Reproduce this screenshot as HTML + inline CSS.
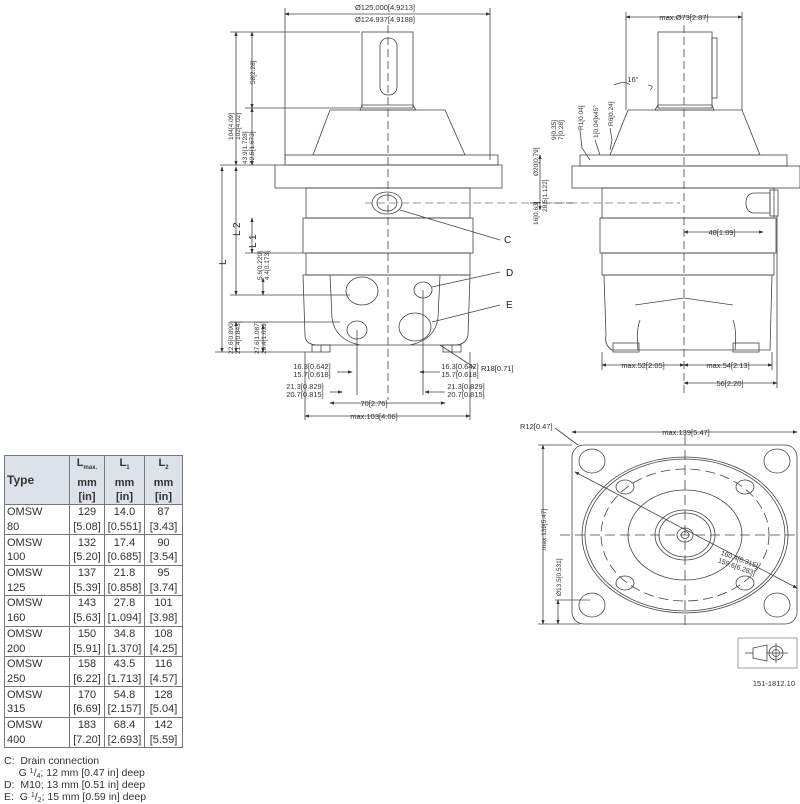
<!DOCTYPE html>
<html><head><meta charset="utf-8"><style>
body{margin:0;background:#fff;width:800px;height:800px;overflow:hidden;position:relative;font-family:"Liberation Sans",sans-serif}
svg{position:absolute;left:0;top:0}
table{position:absolute;left:4px;top:455px;border-collapse:collapse;font-size:11px;color:#333}
td{border:1px solid #777;text-align:center;padding:0 2px;height:14.7px;line-height:14px}
tr.h td{background:#dde2ea;font-weight:bold;line-height:14px;height:48px}
td.t{text-align:left;width:60px}
.notes{position:absolute;left:4px;top:756px;font-size:10.5px;color:#333;line-height:11.5px;white-space:nowrap}
.notes span{font-size:7px;position:relative;top:-3px}
.notes i{font-style:normal;font-size:7px;position:relative;top:2px}
</style></head><body>
<svg width="800" height="800" viewBox="0 0 800 800" font-family="Liberation Sans, sans-serif" font-size="7.5" fill="none" stroke="#444" stroke-width="0.8">
<defs><marker id="a" markerWidth="6" markerHeight="6" refX="5" refY="3" orient="auto-start-reverse"><path d="M0,1 L6,3 L0,5Z" fill="#333" stroke="none"/></marker></defs>
<g>
<line x1="285" y1="14" x2="490" y2="14" marker-start="url(#a)" marker-end="url(#a)"/>
<line x1="285" y1="8" x2="285" y2="160"/><line x1="490" y1="8" x2="490" y2="160"/>
<rect x="362" y="32" width="51" height="76"/>
<rect x="380" y="38" width="17" height="57" rx="8"/>
<path d="M360,110 L362,105 L413,105 L416,110 Z"/>
<path d="M330,110 L445,110 L465,155 L313,155 Z"/>
<rect x="285" y="155" width="213" height="10"/>
<rect x="275" y="165" width="227" height="23"/>
<rect x="306" y="188" width="164" height="30"/>
<rect x="303" y="218" width="170" height="35"/>
<rect x="306" y="253" width="164" height="22"/>
<path d="M303,275 L470,275 L468,335 Q466,345 455,345 L318,345 Q305,345 305,335 Z"/>
<path d="M330,275 L332,318 Q335,340 360,345 M440,275 L438,318 Q435,340 410,345"/>
<rect x="312" y="345" width="18" height="7"/><rect x="443" y="345" width="18" height="7"/>
<line x1="321" y1="345" x2="321" y2="352"/><line x1="452" y1="345" x2="452" y2="352"/>
<ellipse cx="387" cy="203" rx="15" ry="11"/><ellipse cx="387" cy="203" rx="10" ry="8"/>
<ellipse cx="362" cy="291" rx="16" ry="14"/><ellipse cx="423" cy="290" rx="9" ry="8"/>
<ellipse cx="415" cy="327" rx="16" ry="14"/><ellipse cx="357" cy="330" rx="10" ry="9"/>
<line x1="388" y1="25" x2="388" y2="400" stroke-dasharray="8,4"/>
<line x1="365" y1="203" x2="680" y2="203" stroke-dasharray="8,4" stroke="#777"/>
<line x1="400" y1="210" x2="500" y2="240"/><text x="504" y="243" fill="#222" stroke="none" font-size="10">C</text>
<line x1="432" y1="287" x2="500" y2="272"/><text x="506" y="276" fill="#222" stroke="none" font-size="10">D</text>
<line x1="432" y1="322" x2="500" y2="305"/><text x="506" y="308" fill="#222" stroke="none" font-size="10">E</text>
<line x1="440" y1="345" x2="475" y2="368"/><text x="481" y="371" fill="#222" stroke="none">R18[0.71]</text>
<line x1="236" y1="32" x2="236" y2="165" marker-start="url(#a)" marker-end="url(#a)"/>
<line x1="252" y1="32" x2="252" y2="108" marker-start="url(#a)" marker-end="url(#a)"/>
<line x1="252" y1="108" x2="252" y2="165" marker-start="url(#a)" marker-end="url(#a)"/>
<line x1="230" y1="32" x2="360" y2="32"/><line x1="245" y1="108" x2="360" y2="108"/>
<line x1="220" y1="165" x2="275" y2="165"/>
<line x1="222" y1="167" x2="222" y2="352" marker-start="url(#a)" marker-end="url(#a)"/>
<line x1="236" y1="167" x2="236" y2="295" marker-start="url(#a)" marker-end="url(#a)"/>
<line x1="252" y1="218" x2="252" y2="253" marker-start="url(#a)" marker-end="url(#a)"/>
<line x1="245" y1="253" x2="303" y2="253"/><line x1="230" y1="295" x2="350" y2="295"/>
<line x1="263" y1="278" x2="263" y2="295" marker-start="url(#a)" marker-end="url(#a)"/>
<line x1="236" y1="322" x2="236" y2="352" marker-start="url(#a)" marker-end="url(#a)"/>
<line x1="263" y1="325" x2="263" y2="352" marker-start="url(#a)" marker-end="url(#a)"/>
<line x1="215" y1="352" x2="312" y2="352"/><line x1="230" y1="322" x2="340" y2="322"/>
<g fill="#333" stroke="none" font-size="6.5">
<text transform="translate(233,140) rotate(-90)">104[4.09]</text><text transform="translate(240,140) rotate(-90)">102[4.02]</text>
<text transform="translate(255,84) rotate(-90)">58[2.28]</text>
<text transform="translate(247,164) rotate(-90)">43.9[1.728]</text><text transform="translate(254,164) rotate(-90)">42.5[1.673]</text>
<text transform="translate(262,280) rotate(-90)">5.6[0.220]</text><text transform="translate(269,280) rotate(-90)">4.4[0.173]</text>
<text transform="translate(233,354) rotate(-90)">22.6[0.890]</text><text transform="translate(240,354) rotate(-90)">21.4[0.843]</text>
<text transform="translate(259,354) rotate(-90)">27.6[1.087]</text><text transform="translate(266,354) rotate(-90)">26.4[1.039]</text>
</g>
<text transform="translate(226,265) rotate(-90)" fill="#222" stroke="none" font-size="10">L</text>
<text transform="translate(240,236) rotate(-90)" fill="#222" stroke="none" font-size="10">L 2</text>
<text transform="translate(256,248) rotate(-90)" fill="#222" stroke="none" font-size="10">L 1</text>
<g fill="#333" stroke="none" text-anchor="middle">
<text x="385" y="10">Ø125.000[4.9213]</text><text x="385" y="22">Ø124.937[4.9188]</text>
<text x="312" y="369">16.3[0.642]</text><text x="312" y="377">15.7[0.618]</text>
<text x="460" y="369">16.3[0.642]</text><text x="460" y="377">15.7[0.618]</text>
<text x="305" y="389">21.3[0.829]</text><text x="305" y="397">20.7[0.815]</text>
<text x="466" y="389">21.3[0.829]</text><text x="466" y="397">20.7[0.815]</text>
<text x="374" y="406">70[2.76]</text><text x="374" y="419">max.103[4.06]</text>
</g>
<line x1="337" y1="372" x2="352" y2="372" marker-end="url(#a)"/><line x1="440" y1="372" x2="420" y2="372" marker-end="url(#a)"/>
<line x1="330" y1="392" x2="342" y2="392" marker-end="url(#a)"/><line x1="445" y1="392" x2="425" y2="392" marker-end="url(#a)"/>
<line x1="330" y1="403" x2="445" y2="403" marker-start="url(#a)" marker-end="url(#a)"/>
<line x1="305" y1="416" x2="470" y2="416" marker-start="url(#a)" marker-end="url(#a)"/>
<line x1="305" y1="352" x2="305" y2="420"/><line x1="470" y1="352" x2="470" y2="420"/>
<line x1="357" y1="330" x2="357" y2="395"/><line x1="423" y1="290" x2="423" y2="395"/>
</g>
<g>
<line x1="626" y1="17" x2="742" y2="17" marker-start="url(#a)" marker-end="url(#a)"/>
<line x1="626" y1="12" x2="626" y2="110"/><line x1="742" y1="12" x2="742" y2="110"/>
<text x="684" y="20" fill="#333" stroke="none" text-anchor="middle">max.Ø73[2.87]</text>
<rect x="658" y="32" width="54" height="76"/><rect x="712" y="38" width="5" height="60"/>
<path d="M655,110 L658,105 L712,105 L714,110 Z"/>
<path d="M628,110 L742,110 L760,155 L610,155 Z"/>
<rect x="580" y="155" width="207" height="11"/>
<rect x="572" y="166" width="228" height="22"/>
<rect x="602" y="188" width="172" height="30"/>
<rect x="600" y="218" width="176" height="35"/>
<rect x="602" y="253" width="172" height="22"/>
<path d="M604,275 L772,275 L770,350 L612,350 Q604,345 606,335 Z"/>
<path d="M635,305 L684,298 L733,305 M640,320 Q636,330 638,350 M733,320 Q737,330 735,350"/>
<rect x="613" y="343" width="26" height="9"/><rect x="733" y="343" width="26" height="9"/>
<path d="M770,193 L755,193 Q746,193 746,203 Q746,213 755,213 L770,213 Z"/>
<rect x="770" y="190" width="8" height="26"/>
<line x1="684" y1="25" x2="684" y2="395" stroke-dasharray="8,4"/>
<line x1="684" y1="232" x2="763" y2="232" marker-start="url(#a)" marker-end="url(#a)"/>
<text x="722" y="235" fill="#333" stroke="none" text-anchor="middle">48[1.89]</text>
<line x1="602" y1="365" x2="684" y2="365" marker-start="url(#a)" marker-end="url(#a)"/>
<line x1="684" y1="365" x2="772" y2="365" marker-start="url(#a)" marker-end="url(#a)"/>
<line x1="684" y1="383" x2="777" y2="383" marker-start="url(#a)" marker-end="url(#a)"/>
<line x1="602" y1="352" x2="602" y2="370"/><line x1="772" y1="352" x2="772" y2="370"/><line x1="777" y1="216" x2="777" y2="388"/>
<g fill="#333" stroke="none" text-anchor="middle">
<text x="643" y="368">max.52[2.05]</text><text x="728" y="368">max.54[2.13]</text><text x="730" y="386">56[2.20]</text>
<text x="633" y="82">16°</text>
</g>
<path d="M614,85 Q625,80 630,85 M648,85 Q655,86 650,90"/>
<line x1="540" y1="155" x2="540" y2="210" marker-start="url(#a)" marker-end="url(#a)"/>
<g fill="#333" stroke="none" font-size="6.5">
<text transform="translate(538,176) rotate(-90)">Ø20[0.79]</text>
<text transform="translate(547,212) rotate(-90)">28.5[1.122]</text>
<text transform="translate(538,225) rotate(-90)">16[0.63]</text>
<text transform="translate(556,140) rotate(-90)">9[0.35]</text><text transform="translate(563,140) rotate(-90)">7[0.28]</text>
<text transform="translate(583,130) rotate(-90)">R1[0.04]</text>
<text transform="translate(598,138) rotate(-90)">1[0.04]x45°</text>
<text transform="translate(613,126) rotate(-90)">R6[0.24]</text>
</g>
<path d="M580,130 L582,148 L590,160 M595,140 L600,155 M610,128 L612,140 L610,150"/>
<line x1="530" y1="203" x2="573" y2="203" stroke-dasharray="8,4"/>
</g>
<g>
<line x1="572" y1="432" x2="797" y2="432" marker-start="url(#a)" marker-end="url(#a)"/>
<text x="686" y="435" fill="#333" stroke="none" text-anchor="middle">max.139[5.47]</text>
<text x="520" y="429" fill="#333" stroke="none">R12[0.47]</text>
<line x1="555" y1="428" x2="578" y2="445"/>
<rect x="572" y="445" width="225" height="179" rx="12"/>
<ellipse cx="685" cy="535" rx="103" ry="78"/><ellipse cx="685" cy="535" rx="100" ry="76"/>
<ellipse cx="685" cy="535" rx="84" ry="66" stroke-dasharray="10,5"/>
<ellipse cx="685" cy="535" rx="57" ry="45"/>
<ellipse cx="685" cy="535" rx="30" ry="25"/><ellipse cx="685" cy="535" rx="26" ry="22"/>
<ellipse cx="685" cy="535" rx="8" ry="7"/><ellipse cx="685" cy="535" rx="4" ry="3.5"/>
<ellipse cx="592" cy="461" rx="13" ry="12"/><ellipse cx="777" cy="461" rx="13" ry="12"/>
<ellipse cx="592" cy="605" rx="13" ry="12"/><ellipse cx="777" cy="605" rx="13" ry="12"/>
<ellipse cx="625" cy="487" rx="9" ry="7"/><ellipse cx="745" cy="487" rx="9" ry="7"/>
<ellipse cx="625" cy="583" rx="9" ry="7"/><ellipse cx="745" cy="583" rx="9" ry="7"/>
<line x1="560" y1="535" x2="800" y2="535" stroke-dasharray="10,5"/>
<line x1="685" y1="435" x2="685" y2="630" stroke-dasharray="10,5"/>
<line x1="575" y1="472" x2="797" y2="588" marker-start="url(#a)" marker-end="url(#a)"/>
<g fill="#333" stroke="none" font-size="7" transform="rotate(20 740 565)"><text x="718" y="562">160.4[6.315]</text><text x="718" y="570">159.6[6.283]</text></g>
<line x1="543" y1="445" x2="543" y2="624" marker-start="url(#a)" marker-end="url(#a)"/>
<line x1="538" y1="445" x2="572" y2="445"/><line x1="538" y1="624" x2="580" y2="624"/>
<line x1="558" y1="600" x2="558" y2="624" marker-start="url(#a)" marker-end="url(#a)"/>
<line x1="555" y1="600" x2="590" y2="600"/>
<g fill="#333" stroke="none" font-size="6.5"><text transform="translate(546,550) rotate(-90)">max.139[5.47]</text><text transform="translate(561,596) rotate(-90)">Ø13.5[0.531]</text></g>
<rect x="738" y="638" width="59" height="30" stroke="#888"/>
<path d="M753,648 L767,645 L767,661 L753,658 Z"/><line x1="745" y1="653" x2="753" y2="653"/>
<circle cx="776" cy="653" r="7"/><circle cx="776" cy="653" r="3.5"/><line x1="766" y1="653" x2="788" y2="653"/><line x1="776" y1="643" x2="776" y2="663"/>
<text x="795" y="686" fill="#333" stroke="none" text-anchor="end">151-1812.10</text>
</g>
</svg>
<table>
<tr class="h"><td class="t" style="font-size:12px">Type</td><td style="width:30px">L<sub style="font-size:6px">max.</sub><br>mm<br>[in]</td><td style="width:35px">L<sub style="font-size:6px">1</sub><br>mm<br>[in]</td><td style="width:33px">L<sub style="font-size:6px">2</sub><br>mm<br>[in]</td></tr>
<tr><td class="t" style="border-bottom:none">OMSW</td><td style="border-bottom:none">129</td><td style="border-bottom:none">14.0</td><td style="border-bottom:none">87</td></tr><tr><td class="t" style="border-top:none">80</td><td style="border-top:none">[5.08]</td><td style="border-top:none">[0.551]</td><td style="border-top:none">[3.43]</td></tr>
<tr><td class="t" style="border-bottom:none">OMSW</td><td style="border-bottom:none">132</td><td style="border-bottom:none">17.4</td><td style="border-bottom:none">90</td></tr><tr><td class="t" style="border-top:none">100</td><td style="border-top:none">[5.20]</td><td style="border-top:none">[0.685]</td><td style="border-top:none">[3.54]</td></tr>
<tr><td class="t" style="border-bottom:none">OMSW</td><td style="border-bottom:none">137</td><td style="border-bottom:none">21.8</td><td style="border-bottom:none">95</td></tr><tr><td class="t" style="border-top:none">125</td><td style="border-top:none">[5.39]</td><td style="border-top:none">[0.858]</td><td style="border-top:none">[3.74]</td></tr>
<tr><td class="t" style="border-bottom:none">OMSW</td><td style="border-bottom:none">143</td><td style="border-bottom:none">27.8</td><td style="border-bottom:none">101</td></tr><tr><td class="t" style="border-top:none">160</td><td style="border-top:none">[5.63]</td><td style="border-top:none">[1.094]</td><td style="border-top:none">[3.98]</td></tr>
<tr><td class="t" style="border-bottom:none">OMSW</td><td style="border-bottom:none">150</td><td style="border-bottom:none">34.8</td><td style="border-bottom:none">108</td></tr><tr><td class="t" style="border-top:none">200</td><td style="border-top:none">[5.91]</td><td style="border-top:none">[1.370]</td><td style="border-top:none">[4.25]</td></tr>
<tr><td class="t" style="border-bottom:none">OMSW</td><td style="border-bottom:none">158</td><td style="border-bottom:none">43.5</td><td style="border-bottom:none">116</td></tr><tr><td class="t" style="border-top:none">250</td><td style="border-top:none">[6.22]</td><td style="border-top:none">[1.713]</td><td style="border-top:none">[4.57]</td></tr>
<tr><td class="t" style="border-bottom:none">OMSW</td><td style="border-bottom:none">170</td><td style="border-bottom:none">54.8</td><td style="border-bottom:none">128</td></tr><tr><td class="t" style="border-top:none">315</td><td style="border-top:none">[6.69]</td><td style="border-top:none">[2.157]</td><td style="border-top:none">[5.04]</td></tr>
<tr><td class="t" style="border-bottom:none">OMSW</td><td style="border-bottom:none">183</td><td style="border-bottom:none">68.4</td><td style="border-bottom:none">142</td></tr><tr><td class="t" style="border-top:none">400</td><td style="border-top:none">[7.20]</td><td style="border-top:none">[2.693]</td><td style="border-top:none">[5.59]</td></tr>
</table>
<div class="notes">C:&nbsp; Drain connection<br>&nbsp;&nbsp;&nbsp;&nbsp; G <span>1</span>/<i>4</i>; 12 mm [0.47 in] deep<br>D:&nbsp; M10; 13 mm [0.51 in] deep<br>E:&nbsp; G <span>1</span>/<i>2</i>; 15 mm [0.59 in] deep</div>
</body></html>
